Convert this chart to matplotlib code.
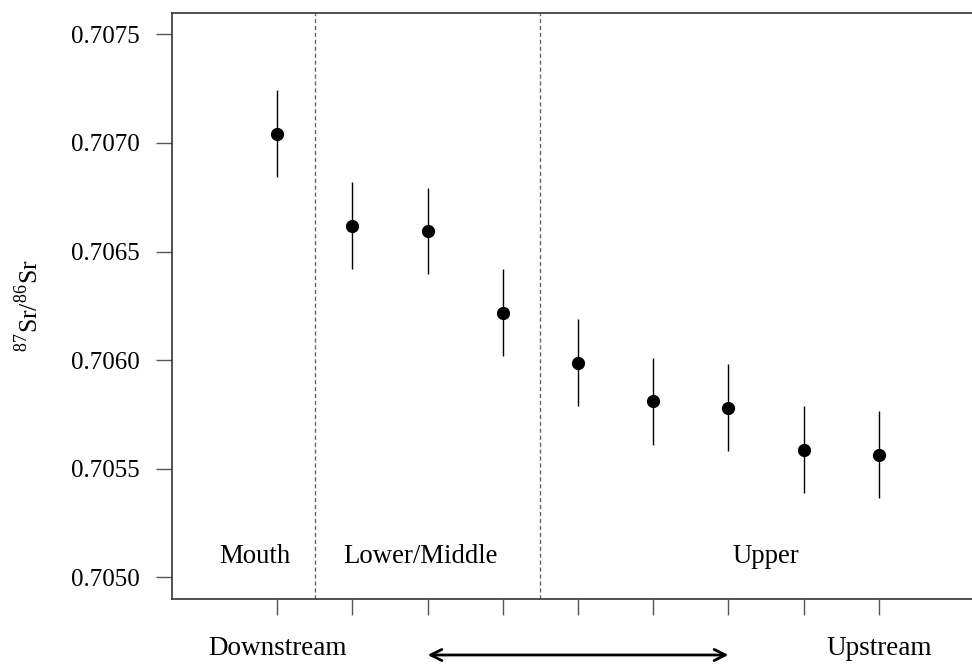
import numpy as np
import matplotlib.pyplot as plt

plt.rcParams['font.family'] = ['Liberation Serif', 'DejaVu Serif']
plt.rcParams['mathtext.fontset'] = 'custom'
plt.rcParams['mathtext.rm'] = 'Liberation Serif'

# Sr isotope ratios along the river, downstream -> upstream
site = np.arange(1, 10)
sr_ratio = [0.707042, 0.706620, 0.706595, 0.706218, 0.705988,
            0.705811, 0.705781, 0.705588, 0.705565]
sr_err = [0.0002, 0.0002, 0.0002, 0.0002, 0.0002,
          0.0002, 0.0002, 0.0002, 0.0002]

zone_names = ["Mouth", "Lower/Middle", "Upper"]
zone_x = [0.7, 2.9, 7.5]
zone_breaks = [1.5, 4.5]
yticks = [0.7050, 0.7055, 0.7060, 0.7065, 0.7070, 0.7075]

fig = plt.figure(figsize=(9.72, 6.64), dpi=100)
ax = fig.add_axes([172 / 972, 65 / 664, 812 / 972, 586.3 / 664])

lo = np.array(sr_ratio) - np.array(sr_err)
hi = np.array(sr_ratio) + np.array(sr_err)
ax.vlines(site, lo, hi, color='black', lw=1.0)
ax.plot(site, sr_ratio, 'o', color='black', markersize=8.5, zorder=3)

for b in zone_breaks:
    ax.axvline(b, color='#666666', lw=1.0, linestyle=(0, (3, 2)))

for name, zx in zip(zone_names, zone_x):
    ax.text(zx, 0.705095, name, ha='center', va='center', fontsize=19.3)

ax.set_xlim(-0.4, 10.4)
ax.set_ylim(0.7049, 0.7076)
ax.set_xticks(site)
ax.set_xticklabels([])
ax.set_yticks(yticks)
ax.set_yticklabels([f"{v:.4f}" for v in yticks])
ax.tick_params(length=11.5, width=1.0, color='#555555', labelsize=18, pad=12)
for s in ax.spines.values():
    s.set_color('#333333')
    s.set_linewidth(1.2)

ax.set_ylabel(r'$^{87}$Sr/$^{86}$Sr', fontsize=18.5, labelpad=20)

# direction labels under the axis
trans = ax.get_xaxis_transform()
ax.text(1, -0.0836, "Downstream", transform=trans, ha='center', va='center',
        fontsize=19.5, clip_on=False)
ax.text(9, -0.0836, "Upstream", transform=trans, ha='center', va='center',
        fontsize=19.5, clip_on=False)
ax.annotate("", xy=(3, -0.0955), xytext=(7, -0.0955), xycoords=trans,
            textcoords=trans, annotation_clip=False,
            arrowprops=dict(arrowstyle='<->,head_length=0.8,head_width=0.4',
                            color='black', lw=2.0, shrinkA=0, shrinkB=0))

fig.savefig("out.png", dpi=100)
